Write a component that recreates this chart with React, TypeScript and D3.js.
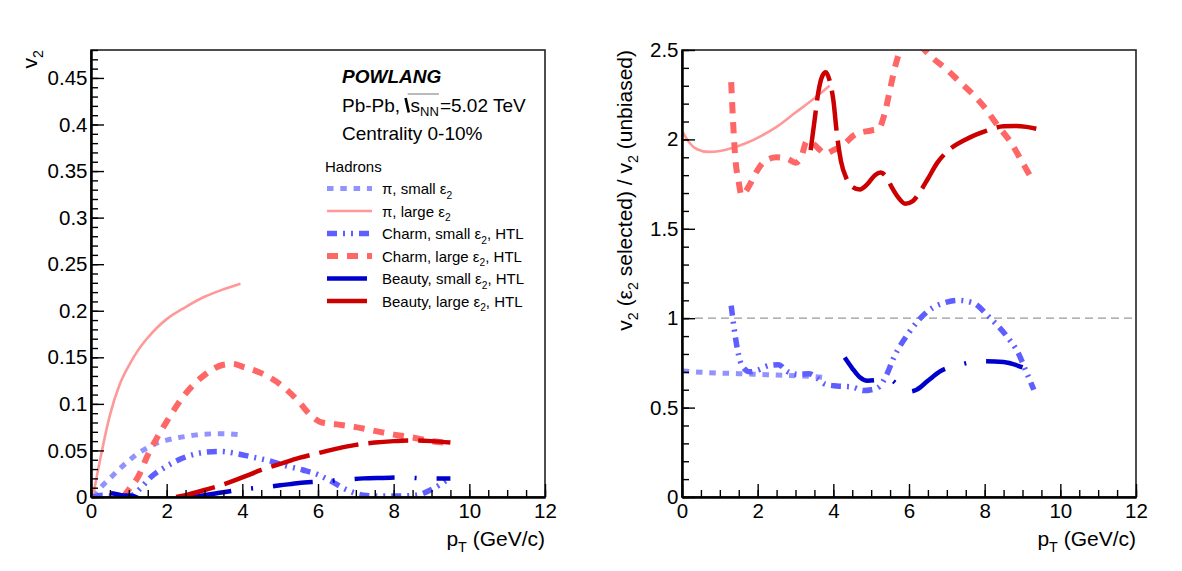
import React, { useEffect, useRef } from 'react';
import * as d3 from 'd3';

type Pt = [number, number];

const FONT = "'Liberation Sans', Arial, Helvetica, sans-serif";

// axis ticks
const ptTicks = [0, 2, 4, 6, 8, 10, 12];
const ptMinorTicks = d3.range(0, 12.001, 0.5);
const v2Ticks = [0, 0.05, 0.1, 0.15, 0.2, 0.25, 0.3, 0.35, 0.4, 0.45];
const v2MinorTicks = d3.range(0, 0.4801, 0.01);
const ratioTicks = [0, 0.5, 1, 1.5, 2, 2.5];
const ratioMinorTicks = d3.range(0, 2.501, 0.1);

// v2 vs pT (left panel)
const piSmallV2: Pt[] = [[0.05, 0], [0.25, 0.01], [0.5, 0.02], [0.75, 0.03], [1, 0.039], [1.25, 0.047], [1.5, 0.053], [1.75, 0.058], [2, 0.061], [2.5, 0.065], [3, 0.0675], [3.5, 0.068], [3.9, 0.067]];
const piLargeV2: Pt[] = [[0.05, 0], [0.25, 0.042], [0.5, 0.088], [0.75, 0.12], [1, 0.141], [1.25, 0.158], [1.5, 0.171], [1.75, 0.182], [2, 0.191], [2.5, 0.204], [3, 0.215], [3.5, 0.223], [3.95, 0.229]];
const charmSmallV2: Pt[] = [[0.05, 0], [0.3, 0.002], [0.6, 0.001], [0.9, 0.0005], [1.1, 0.002], [1.3, 0.009], [1.6, 0.022], [2, 0.033], [2.5, 0.043], [3, 0.048], [3.4, 0.049], [3.8, 0.047], [4.25, 0.043], [4.7, 0.039], [5.1, 0.034], [5.6, 0.029], [6, 0.024], [6.3, 0.018], [6.75, 0.008], [7.2, 0.002], [7.6, 0.001], [8.1, 0.001], [8.6, 0.002], [9, 0.008], [9.5, 0.021]];
const charmLargeV2: Pt[] = [[0.85, 0], [1, 0.008], [1.25, 0.022], [1.5, 0.045], [1.75, 0.064], [2, 0.081], [2.5, 0.111], [3, 0.131], [3.5, 0.142], [3.75, 0.143], [4, 0.14], [4.5, 0.133], [5, 0.121], [5.5, 0.102], [5.8, 0.088], [6.1, 0.08], [6.5, 0.078], [7, 0.075], [7.5, 0.071], [8, 0.067], [8.5, 0.064], [9, 0.06], [9.5, 0.058]];
const beautySmallV2: Pt[] = [[0.05, 0], [0.25, 0.004], [0.5, 0.004], [0.8, 0.002], [1.1, 0.001], [1.3, -0.002], [1.8, -0.005], [2.3, -0.003], [2.7, 0], [3, 0.002], [3.5, 0.005], [3.8, 0.007], [4.3, 0.0095], [5, 0.0125], [5.5, 0.015], [6, 0.0165], [6.5, 0.018], [7.2, 0.02], [7.7, 0.0205], [8.3, 0.021], [8.8, 0.02], [9.5, 0.02]];
const beautyLargeV2: Pt[] = [[2.25, 0], [2.5, 0.002], [3, 0.0075], [3.5, 0.0135], [4, 0.021], [4.5, 0.029], [5, 0.0355], [5.5, 0.042], [6, 0.047], [6.5, 0.052], [7, 0.056], [7.5, 0.0585], [8, 0.06], [8.5, 0.0607], [9, 0.06], [9.5, 0.0585]];

// v2(eps2 selected) / v2(unbiased) (right panel)
const piSmallRatio: Pt[] = [[0.02, 0.705], [0.5, 0.698], [1, 0.693], [1.5, 0.69], [2, 0.686], [2.5, 0.682], [3, 0.678], [3.5, 0.673], [3.85, 0.668]];
const piLargeRatio: Pt[] = [[0.02, 2.04], [0.2, 1.98], [0.4, 1.945], [0.7, 1.93], [1, 1.935], [1.3, 1.95], [1.7, 1.98], [2.1, 2.02], [2.5, 2.07], [3, 2.15], [3.5, 2.23], [3.9, 2.3]];
const charmSmallRatio: Pt[] = [[1.3, 1.07], [1.38, 0.94], [1.47, 0.82], [1.6, 0.73], [1.8, 0.7], [2, 0.71], [2.3, 0.735], [2.55, 0.74], [2.8, 0.7], [3.1, 0.685], [3.35, 0.69], [3.6, 0.66], [3.8, 0.63], [4.1, 0.621], [4.5, 0.615], [4.8, 0.595], [5, 0.6], [5.2, 0.615], [5.4, 0.68], [5.6, 0.78], [6, 0.92], [6.5, 1.04], [7, 1.09], [7.3, 1.1], [7.7, 1.085], [8.1, 1.01], [8.6, 0.895], [8.9, 0.8], [9.1, 0.7], [9.3, 0.6]];
const charmLargeRatio: Pt[] = [[1.3, 2.32], [1.35, 2.1], [1.4, 1.92], [1.5, 1.76], [1.57, 1.69], [1.65, 1.7], [1.8, 1.75], [2, 1.83], [2.2, 1.88], [2.5, 1.9], [2.8, 1.89], [3, 1.87], [3.15, 1.9], [3.3, 1.99], [3.45, 1.98], [3.6, 1.95], [3.8, 1.92], [4, 1.94], [4.2, 1.96], [4.6, 2.03], [5, 2.05], [5.2, 2.06], [5.35, 2.14], [5.5, 2.28], [5.65, 2.42], [5.8, 2.51], [6, 2.54], [6.3, 2.52], [6.6, 2.46], [7, 2.39], [7.3, 2.33], [7.7, 2.25], [8.05, 2.165], [8.3, 2.09], [8.7, 1.98], [9, 1.87], [9.3, 1.76]];
const beautySmallRatio: Pt[] = [[4.3, 0.78], [4.5, 0.72], [4.7, 0.67], [4.9, 0.65], [5.2, 0.655], [5.45, 0.66], [5.75, 0.62], [6, 0.59], [6.2, 0.6], [6.5, 0.65], [6.8, 0.7], [7.35, 0.74], [7.9, 0.76], [8.5, 0.755], [9, 0.725]];
const beautyLargeRatio: Pt[] = [[3.4, 1.94], [3.5, 2.1], [3.6, 2.26], [3.7, 2.35], [3.8, 2.375], [3.9, 2.33], [4, 2.22], [4.1, 2.02], [4.2, 1.88], [4.35, 1.78], [4.5, 1.735], [4.7, 1.72], [4.9, 1.75], [5.1, 1.8], [5.25, 1.815], [5.4, 1.79], [5.55, 1.73], [5.7, 1.68], [5.9, 1.64], [6.1, 1.655], [6.3, 1.71], [6.5, 1.78], [6.75, 1.87], [7, 1.93], [7.5, 2], [8, 2.045], [8.5, 2.073], [8.8, 2.075], [9.1, 2.07], [9.45, 2.056]];

type Style = { color: string; width: number; dash: number[] | null };

const styles: Record<string, Style> = {
  piSmall: { color: '#9393ff', width: 5, dash: [6.5, 6.8] },
  piLarge: { color: '#ff9999', width: 2.6, dash: null },
  charmSmall: { color: '#5f5fff', width: 5.5, dash: [10, 6, 2, 6, 2, 6] },
  charmLarge: { color: '#ff6666', width: 6, dash: [11, 9] },
  beautySmall: { color: '#0000cc', width: 4.5, dash: [40, 20, 2, 20] },
  beautyLarge: { color: '#cc0000', width: 4.5, dash: [40, 10] },
};

const seriesKeys = ['piSmall', 'piLarge', 'charmSmall', 'charmLarge', 'beautySmall', 'beautyLarge'];

// legend text: [before subscript, subscript, after]
const legendLabels: [string, string, string][] = [
  ['π, small ε', '2', ''],
  ['π, large ε', '2', ''],
  ['Charm, small ε', '2', ', HTL'],
  ['Charm, large ε', '2', ', HTL'],
  ['Beauty, small ε', '2', ', HTL'],
  ['Beauty, large ε', '2', ', HTL'],
];

type Frame = { x0: number; x1: number; y0: number; y1: number };
const leftFrame: Frame = { x0: 91, x1: 545, y0: 50, y1: 497 };
const rightFrame: Frame = { x0: 682, x1: 1136, y0: 50, y1: 497 };

const fmt = (d: d3.NumberValue) => `${+(+d).toFixed(2)}`;

// text with sub-scripted pieces; parts = [text, isSub]
function richText(sel: any, parts: [string, boolean][], size: number) {
  const shift = size * 0.3;
  let down = false;
  parts.forEach(([t, sub]) => {
    const ts = sel.append('tspan').text(t);
    if (sub && !down) { ts.attr('dy', shift).attr('font-size', size * 0.68); down = true; }
    else if (!sub && down) { ts.attr('dy', -shift); down = false; }
    else if (sub) ts.attr('font-size', size * 0.68);
  });
  return sel;
}

// dash offset that makes a dash begin where the curve reaches pT = ptStart
function dashPhase(node: SVGPathElement, px: number) {
  const total = node.getTotalLength();
  let lo = 0, hi = total;
  for (let k = 0; k < 30; k++) {
    const mid = (lo + hi) / 2;
    if (node.getPointAtLength(mid).x < px) lo = mid; else hi = mid;
  }
  return -lo;
}

function drawPanel(svg: any, id: string, frame: Frame, yDomain: [number, number], yTicks: number[], yMinor: number[], data: Pt[][], refLine: boolean, dashStarts: (number | null)[] = []) {
  const x = d3.scaleLinear().domain([0, 12]).range([frame.x0, frame.x1]);
  const y = d3.scaleLinear().domain(yDomain).range([frame.y1, frame.y0]);

  svg.append('clipPath').attr('id', id).append('rect')
    .attr('x', frame.x0).attr('y', frame.y0)
    .attr('width', frame.x1 - frame.x0).attr('height', frame.y1 - frame.y0);

  const plot = svg.append('g').attr('clip-path', `url(#${id})`);

  if (refLine) {
    plot.append('line')
      .attr('x1', x(0)).attr('x2', x(12)).attr('y1', y(1)).attr('y2', y(1))
      .attr('stroke', '#999').attr('stroke-width', 1.3).attr('stroke-dasharray', '8 5');
  }

  const line = d3.line<Pt>().x(d => x(d[0])).y(d => y(d[1])).curve(d3.curveMonotoneX);
  data.forEach((pts, i) => {
    const st = styles[seriesKeys[i]];
    const path = plot.append('path').datum(pts)
      .attr('d', line)
      .attr('fill', 'none')
      .attr('stroke', st.color)
      .attr('stroke-width', st.width)
      .attr('stroke-dasharray', st.dash ? st.dash.join(' ') : null)
      .attr('stroke-linejoin', 'round');
    const start = dashStarts[i];
    if (st.dash && start != null) {
      path.attr('stroke-dashoffset', dashPhase(path.node() as SVGPathElement, x(start)));
    }
  });

  // frame
  svg.append('rect')
    .attr('x', frame.x0).attr('y', frame.y0)
    .attr('width', frame.x1 - frame.x0).attr('height', frame.y1 - frame.y0)
    .attr('fill', 'none').attr('stroke', '#222').attr('stroke-width', 1.6);

  const styleAxis = (g: any) => {
    g.attr('font-family', FONT).attr('font-size', 20.5);
    g.select('.domain').attr('stroke', '#000').attr('stroke-width', 2);
    g.selectAll('.tick line').attr('stroke', '#000').attr('stroke-width', 1.4);
    g.selectAll('.tick text').attr('fill', '#000');
  };

  // minor ticks first, majors on top
  svg.append('g').attr('transform', `translate(0,${frame.y1})`)
    .call(d3.axisBottom(x).tickValues(ptMinorTicks).tickSizeInner(-7).tickSizeOuter(0).tickFormat(() => ''))
    .call(styleAxis);
  svg.append('g').attr('transform', `translate(0,${frame.y1})`)
    .call(d3.axisBottom(x).tickValues(ptTicks).tickSizeInner(-13).tickSizeOuter(0).tickPadding(6).tickFormat(fmt))
    .call(styleAxis);
  svg.append('g').attr('transform', `translate(${frame.x0},0)`)
    .call(d3.axisLeft(y).tickValues(yMinor).tickSizeInner(-7).tickSizeOuter(0).tickFormat(() => ''))
    .call(styleAxis);
  svg.append('g').attr('transform', `translate(${frame.x0},0)`)
    .call(d3.axisLeft(y).tickValues(yTicks).tickSizeInner(-13).tickSizeOuter(0).tickPadding(3.5).tickFormat(fmt))
    .call(styleAxis);

  // pT title
  richText(
    svg.append('text').attr('x', frame.x1).attr('y', 546).attr('text-anchor', 'end')
      .attr('font-family', FONT).attr('font-size', 21),
    [['p', false], ['T', true], [' (GeV/c)', false]], 21);

  return { x, y };
}

export default function App() {
  const ref = useRef<SVGSVGElement>(null);

  useEffect(() => {
    const svg = d3.select(ref.current);
    svg.selectAll('*').remove();

    svg.append('rect').attr('width', 1182).attr('height', 571).attr('fill', '#fff');

    drawPanel(svg, 'clip-v2', leftFrame, [0, 0.48], v2Ticks, v2MinorTicks,
      [piSmallV2, piLargeV2, charmSmallV2, charmLargeV2, beautySmallV2, beautyLargeV2], false,
      [null, null, null, null, 2.66, null]);
    drawPanel(svg, 'clip-ratio', rightFrame, [0, 2.5], ratioTicks, ratioMinorTicks,
      [piSmallRatio, piLargeRatio, charmSmallRatio, charmLargeRatio, beautySmallRatio, beautyLargeRatio], true);

    // y titles
    richText(
      svg.append('text').attr('transform', 'translate(37,50) rotate(-90)').attr('text-anchor', 'end')
        .attr('font-family', FONT).attr('font-size', 21),
      [['v', false], ['2', true]], 21);
    richText(
      svg.append('text').attr('transform', 'translate(632,50) rotate(-90)').attr('text-anchor', 'end')
        .attr('font-family', FONT).attr('font-size', 21),
      [['v', false], ['2', true], [' (ε', false], ['2', true], [' selected) / v', false], ['2', true], [' (unbiased)', false]], 21);

    // model / system labels
    const tx = 342;
    svg.append('text').attr('x', tx).attr('y', 83)
      .attr('font-family', FONT).attr('font-size', 19).attr('font-weight', 'bold').attr('font-style', 'italic')
      .text('POWLANG');

    const base = 111.5;
    const t1 = svg.append('text').attr('x', tx).attr('y', base)
      .attr('font-family', FONT).attr('font-size', 19).text('Pb-Pb,');
    const w1 = (t1.node() as SVGTextElement).getComputedTextLength();
    const radX = tx + w1 + 5.5;
    const sT = svg.append('text').attr('x', radX + 5).attr('y', base)
      .attr('font-family', FONT).attr('font-size', 19).text('s');
    const ws = (sT.node() as SVGTextElement).getComputedTextLength();
    const nnX = radX + 5 + ws;
    const nnT = svg.append('text').attr('x', nnX).attr('y', base + 4)
      .attr('font-family', FONT).attr('font-size', 13).text('NN');
    const wnn = (nnT.node() as SVGTextElement).getComputedTextLength();
    svg.append('text').attr('x', nnX + wnn + 1).attr('y', base)
      .attr('font-family', FONT).attr('font-size', 19).text('=5.02 TeV');
    // radical sign
    svg.append('path')
      .attr('d', `M${radX},${base - 13.5} L${radX + 3.2},${base + 1}`)
      .attr('stroke', '#000').attr('stroke-width', 2.6).attr('fill', 'none');
    svg.append('path')
      .attr('d', `M${radX + 2},${base - 17.5} H${nnX + wnn}`)
      .attr('stroke', '#666').attr('stroke-width', 0.9).attr('fill', 'none');

    svg.append('text').attr('x', tx).attr('y', 140)
      .attr('font-family', FONT).attr('font-size', 19).text('Centrality 0-10%');

    // legend
    svg.append('text').attr('x', 325).attr('y', 172)
      .attr('font-family', FONT).attr('font-size', 15).text('Hadrons');

    const legY = d3.scaleLinear().domain([0, 5]).range([188.5, 301]);
    seriesKeys.forEach((k, i) => {
      const st = styles[k];
      const yy = legY(i);
      svg.append('line')
        .attr('x1', 327).attr('x2', 372).attr('y1', yy).attr('y2', yy)
        .attr('stroke', st.color).attr('stroke-width', st.width)
        .attr('stroke-dasharray', st.dash ? st.dash.join(' ') : null);
      const [a, b, c] = legendLabels[i];
      const parts: [string, boolean][] = [[a, false], [b, true]];
      if (c) parts.push([c, false]);
      richText(
        svg.append('text').attr('x', 382).attr('y', yy + 5.5)
          .attr('font-family', FONT).attr('font-size', 15),
        parts, 15);
    });
  }, []);

  return (
    <div style={{ position: 'fixed', left: 0, top: 0 }}>
      <svg ref={ref} width={1182} height={571} style={{ display: 'block' }} />
    </div>
  );
}
